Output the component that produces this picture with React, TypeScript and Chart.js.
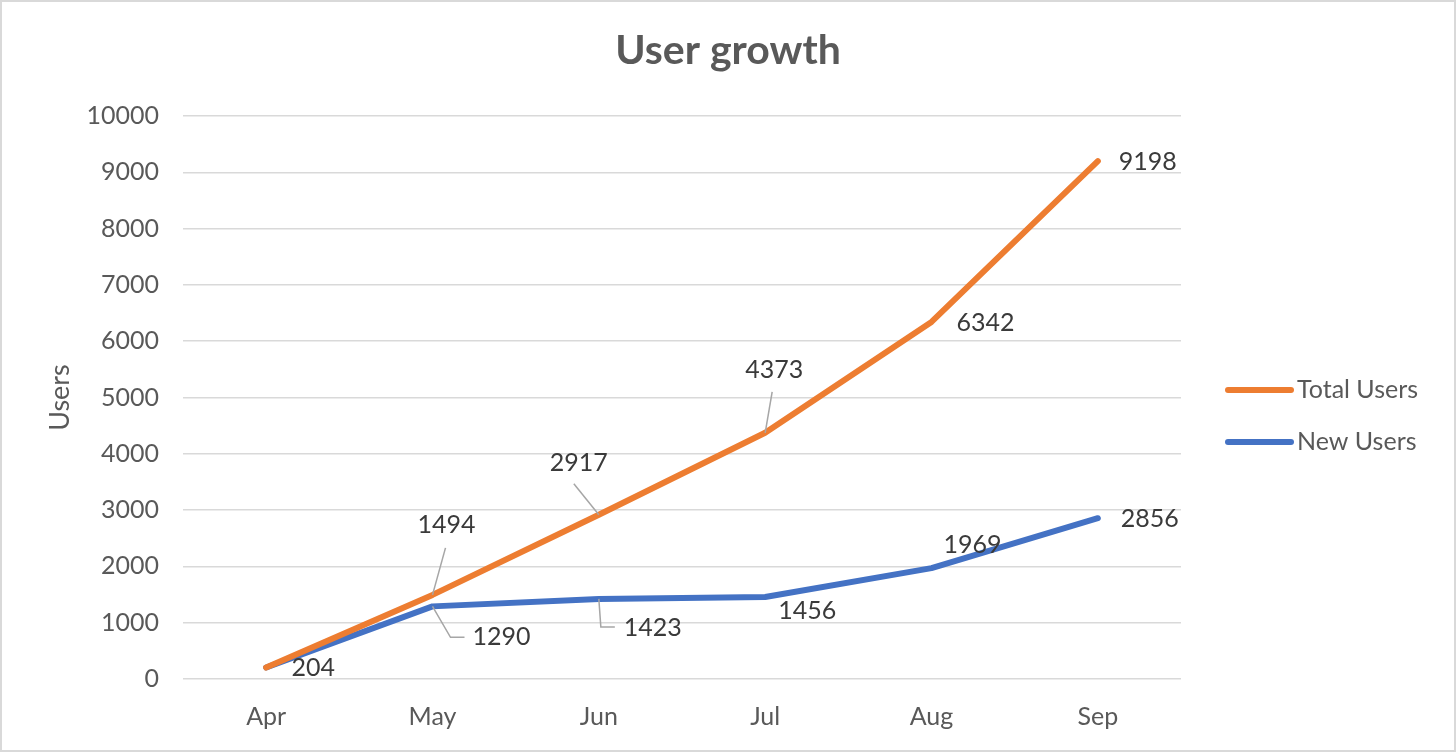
import React, { useEffect, useRef } from "react";
import { Chart, registerables } from "chart.js";

Chart.register(...registerables);

const categories = ["Apr", "May", "Jun", "Jul", "Aug", "Sep"];
const totalUsers = [204, 1494, 2917, 4373, 6342, 9198];
const newUsers = [204, 1290, 1423, 1456, 1969, 2856];
const yTicks = { min: 0, max: 10000, step: 1000 };
const titleText = "User growth";

const ORANGE = "#ED7D31";
const BLUE = "#4472C4";
const FONT = "Lato, 'Open Sans', sans-serif";

// label placement (pixel offsets from the point) and leader lines
type Place = { dx: number; dy: number; leader?: number[][] } | null;
const totalPlace: Place[] = [
  null,
  { dx: 14, dy: -70, leader: [[13, -47]] },
  { dx: -20, dy: -52, leader: [[-25, -31]] },
  { dx: 9, dy: -63, leader: [[7, -41]] },
  { dx: 54, dy: 1 },
  { dx: 50, dy: 1 },
];
const newPlace: Place[] = [
  { dx: 47, dy: 0 },
  { dx: 69, dy: 31, leader: [[18, 31], [32, 31]] },
  { dx: 54, dy: 29, leader: [[2, 28], [16, 28]] },
  { dx: 42, dy: 14 },
  { dx: 41, dy: -23 },
  { dx: 52, dy: 1 },
];

const labelPlugin = {
  id: "dataLabelsCustom",
  afterDatasetsDraw(chart: any) {
    const ctx = chart.ctx;
    const places = [totalPlace, newPlace];
    ctx.save();
    chart.data.datasets.forEach((ds: any, di: number) => {
      const meta = chart.getDatasetMeta(di);
      meta.data.forEach((pt: any, i: number) => {
        const p = places[di][i];
        if (!p) return;
        if (p.leader) {
          ctx.beginPath();
          ctx.strokeStyle = "#A6A6A6";
          ctx.lineWidth = 1.5;
          ctx.moveTo(pt.x, pt.y);
          p.leader.forEach(([lx, ly]) => ctx.lineTo(pt.x + lx, pt.y + ly));
          ctx.stroke();
        }
        ctx.fillStyle = "#3A3A3A";
        ctx.font = `25px ${FONT}`;
        ctx.textAlign = "center";
        ctx.textBaseline = "middle";
        ctx.fillText(String(ds.data[i]), pt.x + p.dx, pt.y + p.dy);
      });
    });
    ctx.restore();
  },
};

const legendTitlePlugin = {
  id: "legendTitleCustom",
  afterDraw(chart: any) {
    const ctx = chart.ctx;
    const area = chart.chartArea;
    ctx.save();
    // title centred on the whole chart
    ctx.fillStyle = "#595959";
    ctx.font = `bold 41px ${FONT}`;
    ctx.textAlign = "center";
    ctx.textBaseline = "middle";
    ctx.fillText(titleText, chart.width / 2, 49);
    // legend
    const rows = [274, 326];
    chart.data.datasets.forEach((ds: any, di: number) => {
      const y = area.top + rows[di];
      const x0 = area.right + 47;
      ctx.beginPath();
      ctx.strokeStyle = ds.borderColor;
      ctx.lineWidth = 6;
      ctx.lineCap = "round";
      ctx.moveTo(x0, y);
      ctx.lineTo(x0 + 63, y);
      ctx.stroke();
      ctx.fillStyle = "#595959";
      ctx.font = `25px ${FONT}`;
      ctx.textAlign = "left";
      ctx.textBaseline = "middle";
      ctx.fillText(ds.label, x0 + 69, y);
    });
    ctx.restore();
  },
};

export default function App() {
  const ref = useRef<HTMLCanvasElement | null>(null);
  useEffect(() => {
    document.body.style.margin = "0";
    if (!ref.current) return;
    const chart = new Chart(ref.current, {
      type: "line",
      data: {
        labels: categories,
        datasets: [
          {
            label: "Total Users",
            data: totalUsers,
            borderColor: ORANGE,
            backgroundColor: ORANGE,
            borderWidth: 6,
            pointRadius: 0,
            borderCapStyle: "round",
            borderJoinStyle: "round",
            tension: 0,
          },
          {
            label: "New Users",
            data: newUsers,
            borderColor: BLUE,
            backgroundColor: BLUE,
            borderWidth: 6,
            pointRadius: 0,
            borderCapStyle: "round",
            borderJoinStyle: "round",
            tension: 0,
          },
        ],
      },
      options: {
        responsive: false,
        animation: false,
        devicePixelRatio: 1,
        layout: { padding: { left: 0, right: 273, top: 114, bottom: 0 } },
        plugins: {
          legend: { display: false },
          tooltip: { enabled: false },
          title: { display: false },
        },
        scales: {
          x: {
            offset: true,
            grid: { display: false },
            border: { display: false },
            ticks: {
              color: "#595959",
              font: { family: FONT, size: 25 },
              padding: 15,
            },
            afterFit(scale: any) {
              scale.height = 71;
            },
          },
          y: {
            min: yTicks.min,
            max: yTicks.max,
            grid: { color: "#D9D9D9", lineWidth: 1.5, drawTicks: false },
            border: { display: false },
            ticks: {
              stepSize: yTicks.step,
              color: "#595959",
              font: { family: FONT, size: 25 },
              padding: 24,
              callback: (v: any) => String(v),
            },
            title: {
              display: true,
              text: "Users",
              color: "#595959",
              font: { family: FONT, size: 27 },
              padding: { top: 42, bottom: 0 },
            },
            afterFit(scale: any) {
              scale.width = 181;
            },
          },
        },
      },
      plugins: [labelPlugin, legendTitlePlugin],
    });
    return () => chart.destroy();
  }, []);
  return (
    <div
      style={{
        width: 1456,
        height: 752,
        boxSizing: "border-box",
        border: "2px solid #D9D9D9",
        background: "#fff",
      }}
    >
      <canvas ref={ref} width={1452} height={748} style={{ display: "block", width: 1452, height: 748 }} />
    </div>
  );
}
